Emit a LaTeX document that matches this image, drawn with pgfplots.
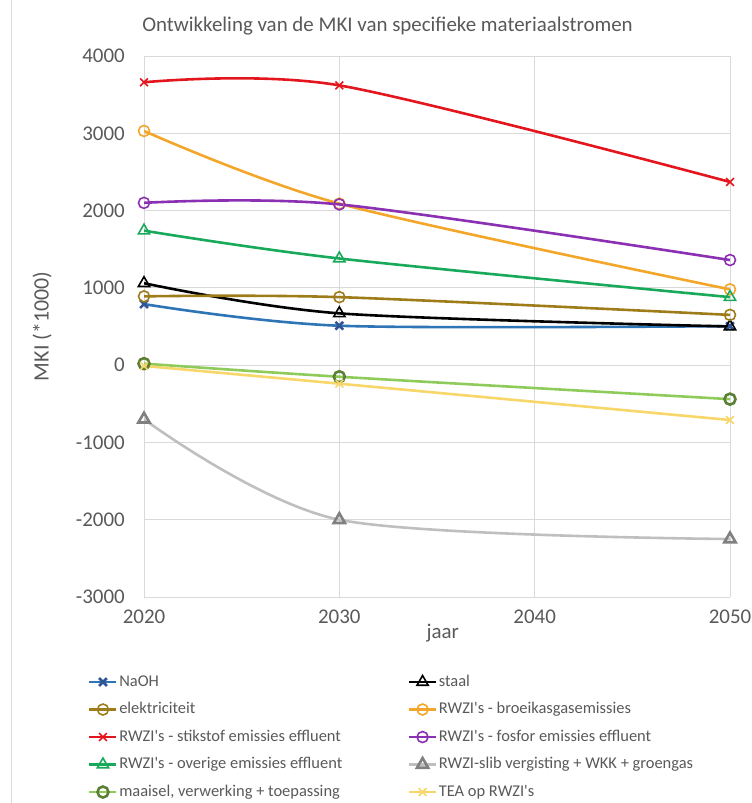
\documentclass[border=0pt]{standalone}
\usepackage{pgfplots}
\pgfplotsset{compat=1.18}
\usepackage{fontspec}
\setmainfont{Carlito}
\definecolor{textgray}{HTML}{595959}
\definecolor{gridgray}{HTML}{D9D9D9}
\definecolor{cNaOH}{HTML}{2E75B6}
\definecolor{cNaOHm}{HTML}{2F5597}
\definecolor{cElek}{HTML}{9E7C1A}
\definecolor{cBroei}{HTML}{F4A62A}
\definecolor{cStik}{HTML}{E3161E}
\definecolor{cFosf}{HTML}{8B2FB3}
\definecolor{cOver}{HTML}{19A95A}
\definecolor{cSlib}{HTML}{BFBFBF}
\definecolor{cSlibm}{HTML}{808080}
\definecolor{cMaai}{HTML}{8FCB5A}
\definecolor{cMaaim}{HTML}{5B7F35}
\definecolor{cTEA}{HTML}{F7D66A}
\newcommand{\colA}[1]{\makebox[287bp][l]{#1}}
\begin{document}
\begin{tikzpicture}
\useasboundingbox (0,0) rectangle (752bp,803bp);
\draw[gridgray, line width=1bp] (11bp,0) -- (11bp,803bp);
\begin{axis}[
  at={(144bp,206bp)}, anchor=south west,
  scale only axis, width=586bp, height=541bp,
  xmin=2020, xmax=2050, ymin=-3000, ymax=4000,
  xtick={2020,2030,2040,2050}, ytick={-3000,-2000,...,4000},
  grid=major, major grid style={draw=gridgray, line width=1bp},
  axis line style={draw=none}, major tick length=0pt,
  /pgf/number format/assume math mode=true,
  /pgf/number format/1000 sep={},
  tick label style={font=\fontsize{21}{21}\selectfont, text=textgray, inner sep=0pt},
  y tick label style={anchor=east, xshift=-19bp},
  x tick label style={anchor=north, yshift=-13bp},
  title={Ontwikkeling van de MKI van specifieke materiaalstromen},
  title style={at={(axis description cs:0.4155,1)}, anchor=base, yshift=19bp,
    font=\fontsize{21}{21}\selectfont, text=textgray, inner sep=0pt},
  xlabel={jaar},
  xlabel style={at={(axis description cs:0.51,-0.0776)}, anchor=base,
    font=\fontsize{21}{21}\selectfont, text=textgray, inner sep=0pt},
  ylabel={MKI (*1000)},
  ylabel style={at={(axis description cs:-0.174,0.5)}, anchor=center, rotate=0,
    font=\fontsize{22}{22}\selectfont, text=textgray, inner sep=0pt},
  every axis plot/.append style={smooth, line width=2.6bp, mark options={solid, line width=1.6bp, fill=none}},
  legend image code/.code={\draw[mark repeat=2,mark phase=2] plot coordinates {(0bp,0bp)(13.5bp,0bp)(27bp,0bp)};},
  legend columns=2,
  legend cell align=left,
  legend style={at={(axis description cs:-0.0956,-0.1425)}, anchor=north west,
    draw=none, fill=none, font=\fontsize{16.5}{16.5}\selectfont, text=textgray,
    column sep=0pt, row sep=12bp, inner sep=0pt,
    nodes={inner xsep=1.5bp, inner ysep=0pt, text height=12bp, text depth=3.5bp}},
]
\addplot[color=cNaOH, mark=x, mark size=5.5bp, mark options={draw=cNaOHm}] coordinates {(2020,790) (2030,510) (2050,505)};
\addlegendentry{\colA{NaOH}}
\addplot[color=black, mark=triangle, mark size=6.5bp] coordinates {(2020,1060) (2030,670) (2050,500)};
\addlegendentry{staal}
\addplot[color=cElek, mark=o, mark size=5.5bp] coordinates {(2020,890) (2030,880) (2050,650)};
\addlegendentry{\colA{elektriciteit}}
\addplot[color=cBroei, mark=o, mark size=5.5bp] coordinates {(2020,3030) (2030,2090) (2050,980)};
\addlegendentry{RWZI\textquotesingle s - broeikasgasemissies}
\addplot[color=cStik, mark=x, mark size=5.5bp] coordinates {(2020,3660) (2030,3620) (2050,2370)};
\addlegendentry{\colA{RWZI\textquotesingle s - stikstof emissies effluent}}
\addplot[color=cFosf, mark=o, mark size=5.5bp] coordinates {(2020,2100) (2030,2080) (2050,1360)};
\addlegendentry{RWZI\textquotesingle s - fosfor emissies effluent}
\addplot[color=cOver, mark=triangle, mark size=6.5bp] coordinates {(2020,1740) (2030,1380) (2050,880)};
\addlegendentry{\colA{RWZI\textquotesingle s - overige emissies effluent}}
\addplot[color=cSlib, mark=triangle, mark size=6.5bp, mark options={draw=cSlibm}] coordinates {(2020,-700) (2030,-2000) (2050,-2250)};
\addlegendentry{RWZI-slib vergisting + WKK + groengas}
\addplot[color=cMaai, mark=o, mark size=5.5bp, mark options={draw=cMaaim}] coordinates {(2020,20) (2030,-150) (2050,-440)};
\addlegendentry{\colA{maaisel, verwerking + toepassing}}
\addplot[color=cTEA, mark=x, mark size=5.5bp] coordinates {(2020,-10) (2030,-240) (2050,-710)};
\addlegendentry{TEA op RWZI\textquotesingle s}
\end{axis}
\end{tikzpicture}
\end{document}
